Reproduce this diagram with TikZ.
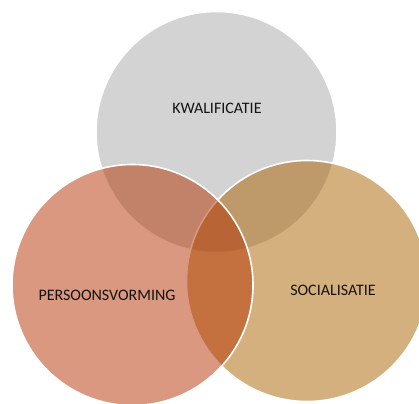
\documentclass[tikz,border=0pt]{standalone}
\usepackage{fontspec}
\setmainfont{Carlito}
\definecolor{kgray}{RGB}{211,211,211}
\definecolor{pcol}{RGB}{179,49,0}
\definecolor{scol}{RGB}{171,97,0}
\definecolor{txt}{RGB}{20,20,20}
\begin{document}
\begin{tikzpicture}[x=1pt,y=-1pt,
  venn/.style={circle, inner sep=0pt, minimum size=241pt, draw=white, line width=1.6pt},
  lbl/.style={font=\fontsize{16}{18}\selectfont, text=txt, inner sep=0pt}]
\useasboundingbox (0,0) rectangle (419,403);
\clip (0,0) rectangle (419,403);
\node[venn, fill=kgray] (kwal) at (216.5,132) {};
\node[venn, fill=scol, fill opacity=0.5] (soc) at (307,281) {};
\node[venn, fill=pcol, fill opacity=0.5] (pers) at (132.5,285) {};
\node[lbl] (tk) at (217,108) {KWALIFICATIE};
\node[lbl] (tp) at (107,295) {PERSOONSVORMING};
\node[lbl] (ts) at (333,290) {SOCIALISATIE};
\end{tikzpicture}
\end{document}
